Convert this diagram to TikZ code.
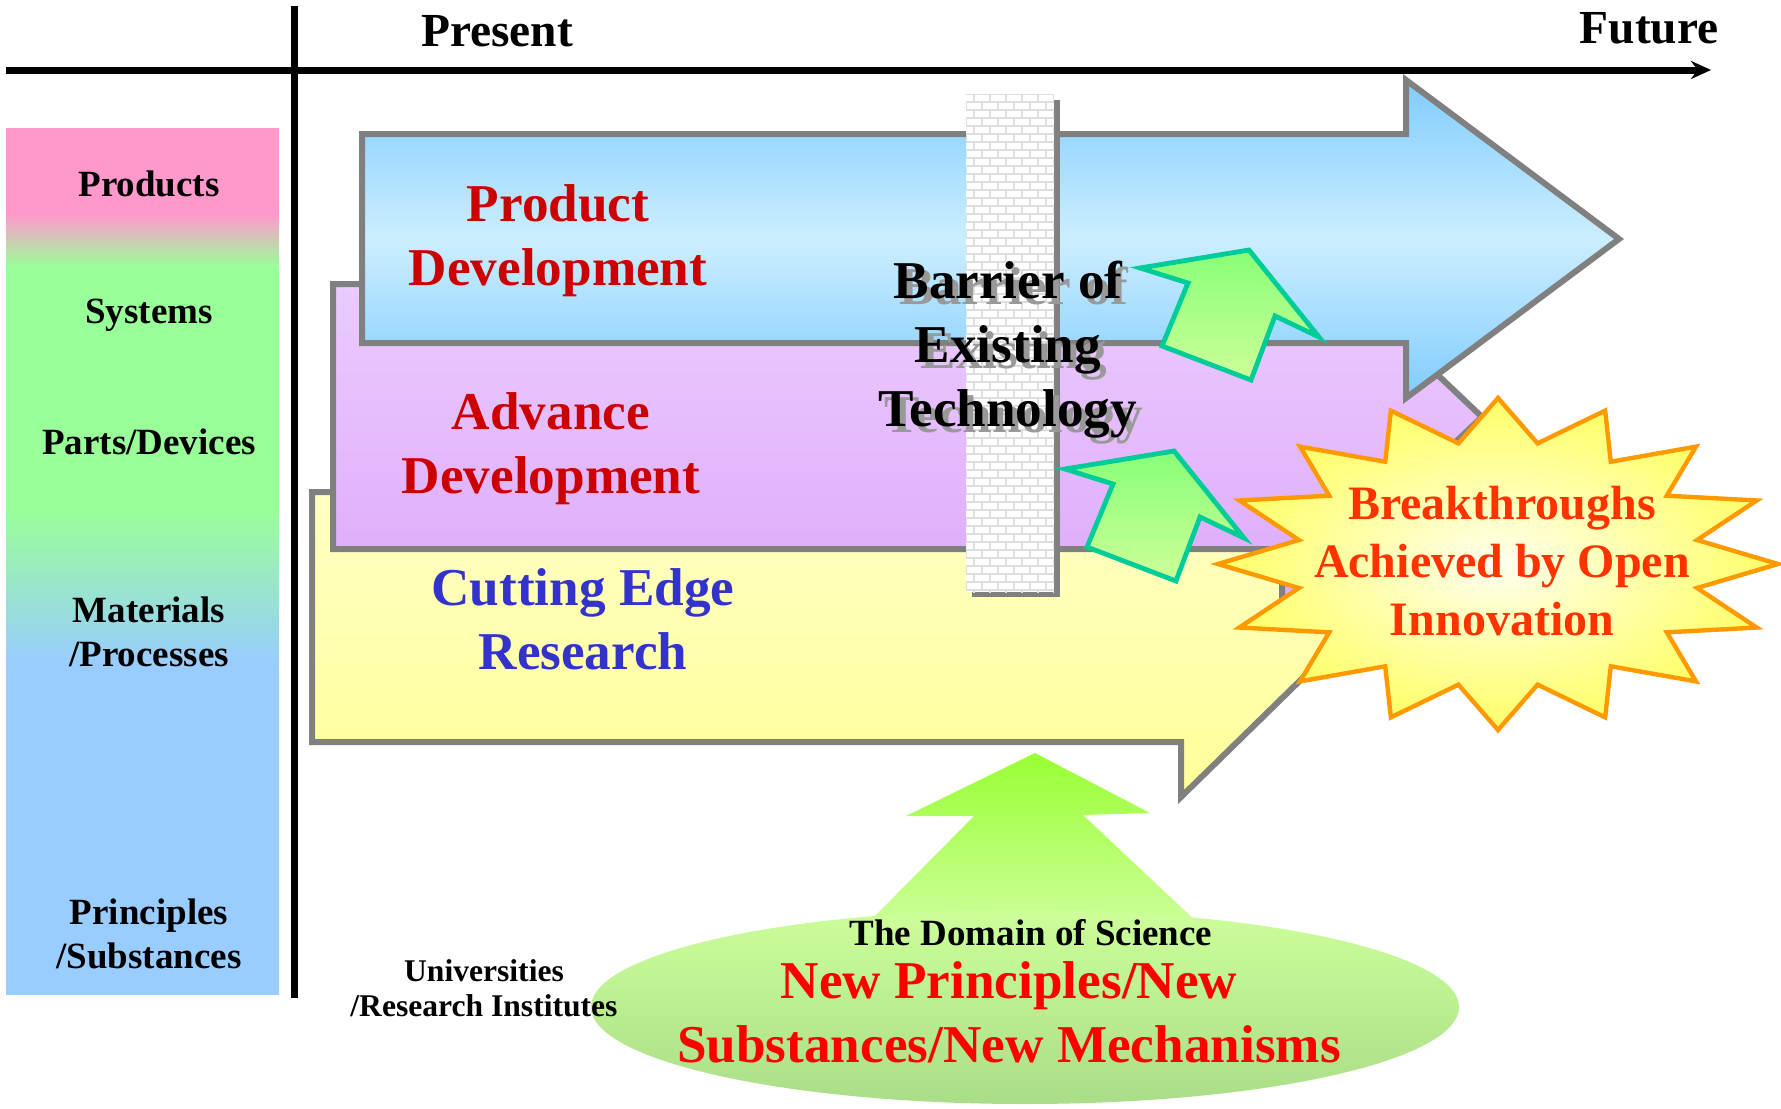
\documentclass[tikz,border=0pt]{standalone}
\usepackage{fontspec}
\setmainfont{Liberation Serif}
\usetikzlibrary{arrows.meta}

\definecolor{edgegray}{HTML}{808080}
\definecolor{prodred}{HTML}{CC0000}
\definecolor{cutblue}{HTML}{3333CC}
\definecolor{newred}{HTML}{FF0000}
\definecolor{burstred}{HTML}{FF3300}
\definecolor{burstedge}{HTML}{FF9900}
\definecolor{burstin}{HTML}{FFFFEE}
\definecolor{burstout}{HTML}{FFFF66}
\definecolor{boostedge}{HTML}{00CC99}
\definecolor{boosttop}{HTML}{88FF77}
\definecolor{boostlow}{HTML}{CCFF99}
\definecolor{sciencetop}{HTML}{99FF33}
\definecolor{sciencelow}{HTML}{AADD88}
\definecolor{bluetop}{HTML}{80CCFF}
\definecolor{bluemid}{HTML}{CCEEFF}
\definecolor{purpletop}{HTML}{EED0FF}
\definecolor{purplelow}{HTML}{DDAAFA}
\definecolor{yellowtop}{HTML}{FFFFCC}
\definecolor{yellowlow}{HTML}{FFFF99}
\definecolor{barpink}{HTML}{FF99CC}
\definecolor{bargreen}{HTML}{99FF99}
\definecolor{barblue}{HTML}{99CCFF}

% levels bar: blue at the bottom, green in the middle, pink on top
\pgfdeclareverticalshading{levels}{100bp}{color(0bp)=(barblue); color(44bp)=(barblue);
  color(53bp)=(bargreen); color(67bp)=(bargreen); color(70bp)=(barpink); color(100bp)=(barpink)}

\begin{document}
\begin{tikzpicture}[
                x=0.5pt, y=-0.5pt, font=\bfseries,
                band/.style={draw=edgegray, line width=3pt},
                side/.style={align=center, font=\fontsize{18.5}{22}\selectfont\bfseries},
                big/.style={align=center, font=\fontsize{26.6}{32}\selectfont\bfseries},
                mortar/.style={draw=black!13, line width=0.7pt},
                boost/.style={draw=boostedge, line width=2.4pt, top color=boosttop, bottom color=boostlow},
                burst/.style={draw=burstedge, line width=2.2pt, inner color=burstin, outer color=burstout}
            ]
                \useasboundingbox (0,0) rectangle (1781,1108);

                % time axis
                \draw[line width=3.5pt, -{Stealth[length=10pt, width=9pt]}] (6,70) -- (1711,70);
                \draw[line width=3.5pt] (294,6) -- (294,998);
                \node[font=\fontsize{23.7}{28}\selectfont\bfseries] (present) at (497,31) {Present};
                \node[font=\fontsize{23.7}{28}\selectfont\bfseries] (future) at (1649,28) {Future};

                % levels
                \shade[shading=levels] (6,128) rectangle (279,994);
                \node[side] (products) at (149,184) {Products};
                \node[side] (systems) at (149,315) {Systems};
                \node[side] (parts) at (149,442) {Parts/Devices};
                \node[side] (materials) at (149,632) {Materials\\/Processes};
                \node[side] (principles) at (149,934) {Principles\\/Substances};

                % three stages
                \draw[band, top color=yellowtop, bottom color=yellowlow] (312,492) -- (1181,492) -- (1181,437) -- (1365,617) -- (1181,797) -- (1181,742) -- (312,742) -- cycle;
                \draw[band, top color=purpletop, bottom color=purplelow] (333,284) -- (1282,284) -- (1282,227) -- (1482,417) -- (1282,606) -- (1282,549) -- (333,549) -- cycle;
                \draw[band, top color=bluetop, bottom color=bluetop, middle color=bluemid] (362,134) -- (1406,134) -- (1406,80) -- (1619,239) -- (1406,398) -- (1406,343) -- (362,343) -- cycle;
                \node[big, text=prodred] (product) at (558,241) {Product\\Development};
                \node[big, text=prodred] (advance) at (551,449) {Advance\\Development};
                \node[big, text=cutblue] (cutting) at (583,619) {Cutting Edge\\Research};

                % wall
                \fill[edgegray] (972,100) rectangle (1060,597);
                \fill[white] (966,94) rectangle (1054,592);
                \begin{scope}
                    \clip (966,94) rectangle (1054,592);
                    \foreach \r in {0,...,62} {
                        \draw[mortar] (966,94+8*\r) -- (1054,94+8*\r);
                        \pgfmathsetmacro\brickoff{mod(\r,2)*8}
                        \foreach \c in {0,16,...,96}
                            \draw[mortar] (958+\c+\brickoff,94+8*\r) -- ++(0,8);
                    }
                \end{scope}
                \node[big, text=black!40] at (1014,356) {Barrier of\\Existing\\Technology};
                \node[big] (barrier) at (1008,350) {Barrier of\\Existing\\Technology};

                % breaking through
                \foreach \tx/\ty in {1249/250, 1174/451}
                    \draw[boost] (\tx,\ty) -- ++(70,87) -- ++(-44,-21) -- ++(-24,64) -- ++(-89,-34) -- ++(26,-63) -- ++(-48,-15) -- cycle;

                \draw[burst] (1778,564) \foreach \i in {1,...,31} { -- ({1498+(280-77*mod(\i,2))*cos(11.25*\i)}, {564-(166-43*mod(\i,2))*sin(11.25*\i)}) } -- cycle;
                \node[align=center, text=burstred, font=\fontsize{24}{29}\selectfont\bfseries] (breakthrough) at (1502,561) {Breakthroughs\\Achieved by Open\\Innovation};

                % science
                \shade[top color=sciencetop, bottom color=boostlow] (1035,753) -- (1150,813) -- (1083,815) -- (1200,925) -- (866,925) -- (974,816) -- (906,816) -- cycle;
                \shade[top color=boostlow, bottom color=sciencelow] (1025,1007) ellipse [x radius=217pt, y radius=48.5pt];
                \node[side] (domain) at (1031,933) {The Domain of Science};
                \node[big, text=newred] (novel) at (1009,1012) {New Principles/New\\Substances/New Mechanisms};
                \node[align=center, font=\fontsize{15.8}{17.5}\selectfont\bfseries] (univ) at (484,988) {Universities\\/Research Institutes};
            \end{tikzpicture}
\end{document}
